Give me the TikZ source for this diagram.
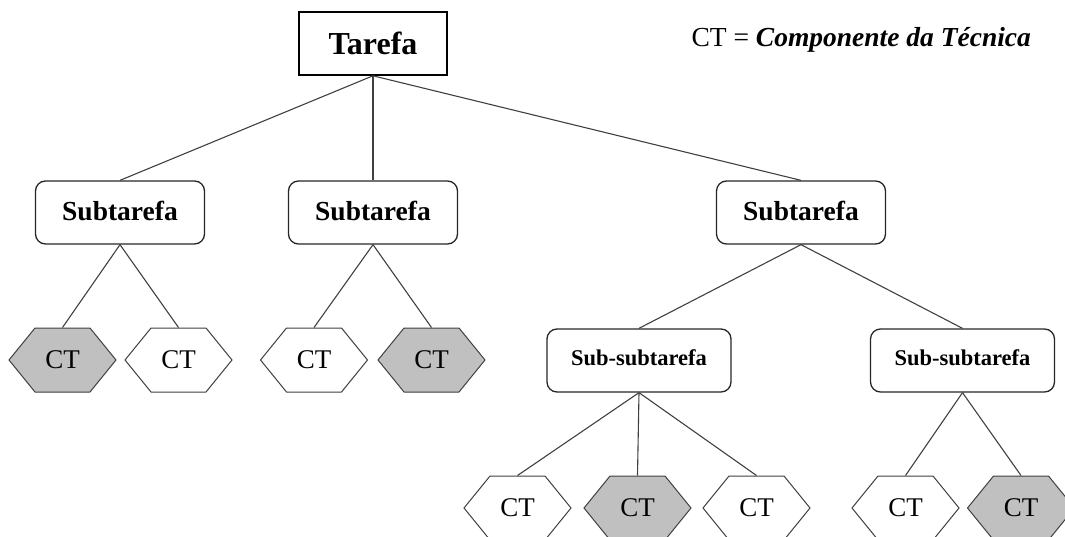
\documentclass[tikz,border=0pt]{standalone}
\usepackage{fontspec}
\setmainfont{Liberation Serif}
\usetikzlibrary{shapes.symbols}
\definecolor{ctgray}{HTML}{C0C0C0}
\definecolor{edgegray}{HTML}{404040}
\begin{document}
\begin{tikzpicture}[x=1pt,y=-1pt,
  topbox/.style={draw=black,line width=1.6pt,minimum width=148pt,minimum height=63pt,inner sep=0pt,
    font=\fontsize{32}{36}\selectfont\bfseries},
  subbox/.style={draw=black!85,line width=1.3pt,rounded corners=10pt,minimum width=169pt,minimum height=63pt,inner sep=0pt,
    font=\fontsize{27.5}{30}\selectfont\bfseries},
  subsubbox/.style={draw=black!85,line width=1.3pt,rounded corners=10pt,minimum width=184pt,minimum height=63pt,inner sep=0pt,
    font=\fontsize{22.5}{26}\selectfont\bfseries},
  hexw/.style={signal,signal to=east and west,signal pointer angle=101.8,draw=edgegray,line width=1pt,fill=white,
    minimum width=107pt,minimum height=64pt,inner sep=0pt,font=\fontsize{27}{30}\selectfont},
  hexg/.style={hexw,fill=ctgray},
  conn/.style={draw=edgegray,line width=1.1pt}]
\useasboundingbox (0,0) rectangle (1065,537);
\node[topbox] (T) at (373,43.5) {Tarefa};
\node[anchor=base west,font=\fontsize{27.5}{30}\selectfont] (leg) at (688,47) {CT = \textbf{\textit{Componente da Técnica}}};
\node[subbox] (S1) at (120,212.5) {\raisebox{3pt}{Subtarefa}};
\node[subbox] (S2) at (373,212.5) {\raisebox{3pt}{Subtarefa}};
\node[subbox] (S3) at (801,212.5) {\raisebox{3pt}{Subtarefa}};
\node[hexg] (H1) at (62.5,360) {CT};
\node[hexw] (H2) at (178.5,360) {CT};
\node[hexw] (H3) at (314,360) {CT};
\node[hexg] (H4) at (431.5,360) {CT};
\node[subsubbox] (SS1) at (639,360.5) {\raisebox{6pt}{Sub-subtarefa}};
\node[subsubbox] (SS2) at (962.5,360.5) {\raisebox{6pt}{Sub-subtarefa}};
\node[hexw] (B1) at (517.5,508) {CT};
\node[hexg] (B2) at (637.5,508) {CT};
\node[hexw] (B3) at (756.5,508) {CT};
\node[hexw] (B4) at (905.5,508) {CT};
\node[hexg] (B5) at (1021,508) {CT};
\draw[conn] (T.south) -- (S1.north);
\draw[conn] (T.south) -- (S2.north);
\draw[conn] (T.south) -- (S3.north);
\draw[conn] (S1.south) -- (H1.north);
\draw[conn] (S1.south) -- (H2.north);
\draw[conn] (S2.south) -- (H3.north);
\draw[conn] (S2.south) -- (H4.north);
\draw[conn] (S3.south) -- (SS1.north);
\draw[conn] (S3.south) -- (SS2.north);
\draw[conn] (SS1.south) -- (B1.north);
\draw[conn] (SS1.south) -- (B2.north);
\draw[conn] (SS1.south) -- (B3.north);
\draw[conn] (SS2.south) -- (B4.north);
\draw[conn] (SS2.south) -- (B5.north);
\end{tikzpicture}
\end{document}
